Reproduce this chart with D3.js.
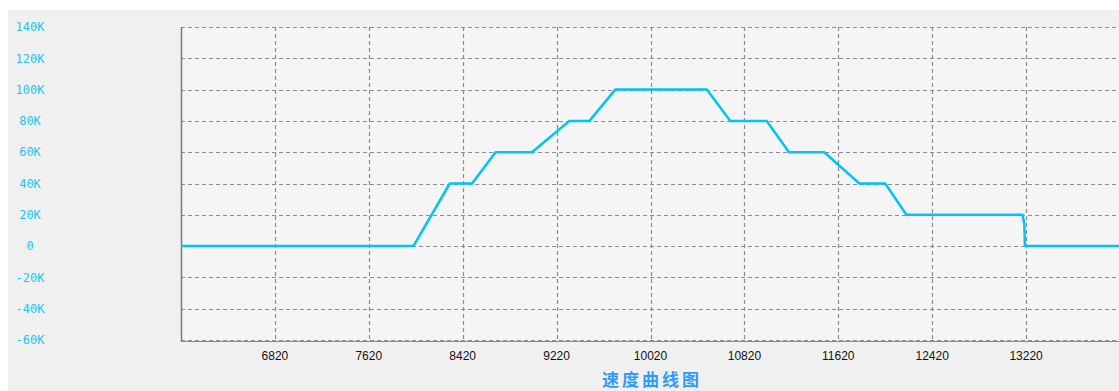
<!DOCTYPE html>
<html><head><meta charset="utf-8">
<script src="https://cdn.jsdelivr.net/npm/d3@7/dist/d3.min.js"></script>
<style>
html,body{margin:0;padding:0;background:#fff;}
svg{display:block;}
</style></head>
<body><svg id="c" width="1119" height="391"></svg>
<script>
// data
const positions = [6020, 8000, 8310, 8500, 8700, 9010, 9330, 9500, 9720, 10500, 10700, 11010, 11200, 11500, 11800, 12020, 12200, 13190, 13205, 13210, 14020];
const speeds    = [0,    0,    40000,40000,60000,60000,80000,80000,100000,100000,80000,80000,60000,60000,40000,40000,20000,20000,14000,0,   0];
const xTicks = [6820, 7620, 8420, 9220, 10020, 10820, 11620, 12420, 13220];
const yTicks = [140000,120000,100000,80000,60000,40000,20000,0,-20000,-40000,-60000];
const yTickLabels = ["140K","120K","100K","80K","60K","40K","20K","0","-20K","-40K","-60K"];
const title = "速度曲线图";

const svg = d3.select("#c");
const W = 1119, H = 391;
svg.append("rect").attr("x",8).attr("y",10).attr("width",W-8).attr("height",H-10).attr("fill","#f0f0f0");

const L = 181, R = 1120, T = 27, B = 340;
const x = d3.scaleLinear().domain([6020, 14020]).range([L, R]);
const y = d3.scaleLinear().domain([-60000, 140000]).range([B, T]);

svg.append("rect").attr("x",L).attr("y",T).attr("width",R-L).attr("height",B-T).attr("fill","#f5f5f5");

// grid
const g = svg.append("g");
g.selectAll(".hg").data(yTicks).enter().append("line")
  .attr("x1",L).attr("x2",R).attr("y1",d=>Math.round(y(d))+0.5).attr("y2",d=>Math.round(y(d))+0.5)
  .attr("stroke","#8c8c8c").attr("stroke-width",1.2).attr("stroke-dasharray","4,3");
g.selectAll(".vg").data(xTicks).enter().append("line")
  .attr("x1",d=>Math.round(x(d))+0.5).attr("x2",d=>Math.round(x(d))+0.5).attr("y1",T).attr("y2",B)
  .attr("stroke","#8c8c8c").attr("stroke-width",1.2).attr("stroke-dasharray","4,3");

// axes lines
svg.append("line").attr("x1",L+0.5).attr("x2",L+0.5).attr("y1",T).attr("y2",B+2).attr("stroke","#7a7a7a").attr("stroke-width",1.5);
svg.append("line").attr("x1",L).attr("x2",R).attr("y1",B+1.5).attr("y2",B+1.5).attr("stroke","#8a8a8a").attr("stroke-width",1);

// y labels
svg.selectAll(".yl").data(yTicks).enter().append("text")
  .attr("x",30).attr("y",d=>y(d)).attr("dy","0.35em").attr("text-anchor","middle")
  .attr("font-family","'DejaVu Sans Mono', monospace").attr("font-size",12)
  .attr("fill","#22c4f2").text((d,i)=>yTickLabels[i]);

// x labels
svg.selectAll(".xl").data(xTicks).enter().append("text")
  .attr("x",d=>x(d)).attr("y",356).attr("dy","0.35em").attr("text-anchor","middle")
  .attr("font-family","'Liberation Sans', Arial, sans-serif").attr("font-size",12)
  .attr("fill","#111").text(d=>d);

// line
const data = positions.map((p,i)=>[p,speeds[i]]);
svg.append("path").datum(data)
  .attr("d", d3.line().x(d=>x(d[0])).y(d=>y(d[1])))
  .attr("fill","none").attr("stroke","#00c3f7").attr("stroke-width",2.5).attr("stroke-linejoin","round");

// title
svg.append("text").attr("x",652).attr("y",380).attr("dy","0.35em").attr("text-anchor","middle")
  .attr("font-family","'Noto Sans CJK SC', sans-serif").attr("font-size",17).attr("font-weight","bold")
  .attr("letter-spacing","3px").attr("fill","#2f9cf5").text(title);
</script></body></html>
